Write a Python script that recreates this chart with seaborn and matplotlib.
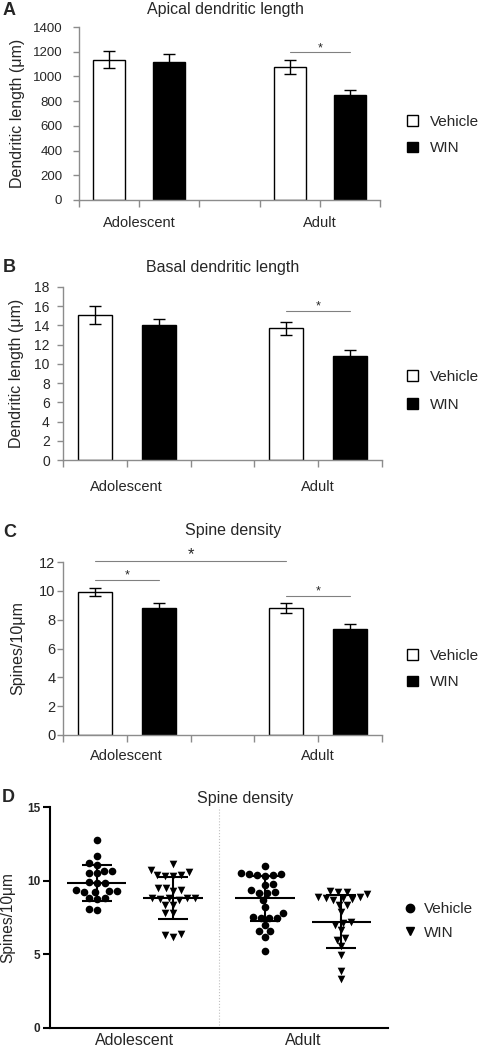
import numpy as np
import pandas as pd
import matplotlib
matplotlib.use("Agg")
import matplotlib.pyplot as plt
import seaborn as sns
from matplotlib.patches import Patch
from matplotlib.lines import Line2D

sns.set_style("ticks")
plt.rcParams["font.family"] = ["Liberation Sans", "DejaVu Sans"]

# groups (panels A-C: one bar per group, Excel-style with an empty slot between ages)
ages = ["Adolescent", "Adolescent", "Adult", "Adult"]
treatments = ["Vehicle", "WIN", "Vehicle", "WIN"]
bar_slots = [0, 1, 3, 4]

apical_mean = [1135, 1120, 1077, 850]
apical_err = [70, 62, 57, 40]
basal_mean = [15.1, 14.0, 13.7, 10.85]
basal_err = [0.95, 0.7, 0.7, 0.6]
spine_mean = [9.92, 8.84, 8.82, 7.32]
spine_err = [0.30, 0.32, 0.33, 0.36]

# panel D: spine density per neuron
adol_vehicle = [12.75, 11.65, 11.05, 11.2, 10.65, 10.55, 10.5, 10.65, 9.85, 9.85, 9.9,
                9.4, 9.3, 9.2, 9.25, 9.3, 8.8, 8.85, 8.75, 8.0, 8.05]
adol_win = [11.15, 10.6, 10.35, 10.35, 10.4, 10.4, 10.7, 9.5, 9.35, 9.5, 9.3, 8.85,
            8.8, 8.7, 8.8, 8.75, 8.8, 8.35, 8.35, 7.8, 7.8, 6.35, 6.15, 6.3]
adult_vehicle = [11.0, 10.45, 10.4, 10.5, 10.4, 10.45, 10.35, 9.75, 9.7, 9.35, 9.15,
                 9.15, 9.2, 8.7, 8.2, 7.8, 7.55, 7.45, 7.45, 7.45, 7.0, 6.6, 6.55, 6.2, 5.25]
adult_win = [9.3, 9.25, 9.2, 9.1, 8.9, 8.85, 8.8, 8.9, 8.75, 8.7, 8.35, 8.35, 7.85,
             7.2, 7.15, 7.0, 6.65, 6.1, 6.0, 5.55, 4.95, 3.9, 3.3]
scatter_mean = [9.84, 8.8, 8.8, 7.2]
scatter_sd = [1.24, 1.42, 1.55, 1.8]
scatter_slots = [0, 1, 2.2, 3.2]

W, H = 482, 1050
bar_colors = {"Vehicle": "white", "WIN": "black"}
axis_gray = "#8c8c8c"


def fx(px):
    return px / W


def fy(py):
    return 1 - py / H


def box(left, top, right, bottom):
    return [fx(left), fy(bottom), (right - left) / W, (bottom - top) / H]


def bar_panel(ax, means, errs, ymax, ystep, ylabel, ytick_size, ytick_pad, xtick_pad, ylab_x):
    df = pd.DataFrame({"slot": bar_slots, "treatment": treatments, "value": means})
    sns.barplot(data=df, x="slot", y="value", hue="treatment", palette=bar_colors,
                native_scale=True, dodge=False, width=0.53, edgecolor="black",
                linewidth=1, errorbar=None, legend=False, ax=ax)
    ax.errorbar(df["slot"], df["value"], yerr=errs, fmt="none", ecolor="black",
                elinewidth=1, capsize=4.5, capthick=1, zorder=3)
    ax.set_xlim(-0.5, 4.5)
    ax.set_ylim(0, ymax)
    ax.set_yticks(np.arange(0, ymax + ystep / 2, ystep))
    ax.set_xticks([-0.5, 0.5, 1.5, 2.5, 3.5, 4.5])
    ax.set_xticklabels(["", "Adolescent", "", "", "Adult", ""], fontsize=10.5)
    ax.tick_params(axis="y", labelsize=ytick_size, length=4, width=1, color=axis_gray,
                   pad=ytick_pad)
    ax.tick_params(axis="x", length=5, width=1, color=axis_gray, pad=xtick_pad)
    sns.despine(ax=ax)
    for s in ["left", "bottom"]:
        ax.spines[s].set_color(axis_gray)
        ax.spines[s].set_linewidth(1)
    ax.set_xlabel("")
    ax.set_ylabel(ylabel, fontsize=11.5)
    ax.yaxis.set_label_coords(ylab_x, 0.5)


def sig(ax, x1, x2, y, size=9):
    ax.plot([x1, x2], [y, y], color="#808080", lw=0.8, clip_on=False)
    ax.annotate("*", ((x1 + x2) / 2, y), xytext=(0, 1), textcoords="offset points",
                ha="center", va="baseline", fontsize=size, annotation_clip=False)


def bar_legend(fig, cy, spacing):
    handles = [Patch(facecolor="white", edgecolor="black", linewidth=1, label="Vehicle"),
               Patch(facecolor="black", edgecolor="black", linewidth=1, label="WIN")]
    fig.legend(handles=handles, loc="center left", bbox_to_anchor=(fx(407), fy(cy)),
               frameon=False, fontsize=11, handlelength=0.7, handleheight=0.7,
               handletextpad=0.8, labelspacing=spacing, borderpad=0, borderaxespad=0)


fig = plt.figure(figsize=(W / 100, H / 100), dpi=100)

# A
axa = fig.add_axes(box(79, 27, 380, 200))
bar_panel(axa, apical_mean, apical_err, 1400, 200, "Dendritic length (\u03bcm)",
          9.5, 8.0, 6.5, -0.18)
sig(axa, 3, 4, 1195)
fig.text(fx(3), fy(15), "A", fontsize=13, fontweight="bold", va="baseline")
fig.text(fx(225), fy(14), "Apical dendritic length", fontsize=11.5, ha="center", va="baseline")
bar_legend(fig, 135, 0.85)

# B
axb = fig.add_axes(box(63, 287, 382, 460))
bar_panel(axb, basal_mean, basal_err, 18, 2, "Dendritic length (\u03bcm)",
          10, 5.5, 9.5, -0.122)
sig(axb, 3, 4, 15.5)
fig.text(fx(3), fy(272), "B", fontsize=13, fontweight="bold", va="baseline")
fig.text(fx(223), fy(272), "Basal dendritic length", fontsize=11.5, ha="center", va="baseline")
bar_legend(fig, 391, 0.9)

# C
axc = fig.add_axes(box(63, 562, 382, 735))
bar_panel(axc, spine_mean, spine_err, 12, 2, "Spines/10\u03bcm", 10.5, 1.5, 5, -0.119)
sig(axc, 0, 3, 12.07, size=12)
sig(axc, 0, 1, 10.73)
sig(axc, 3, 4, 9.67)
fig.text(fx(3), fy(537), "C", fontsize=13, fontweight="bold", va="baseline")
fig.text(fx(233), fy(535), "Spine density", fontsize=11.5, ha="center", va="baseline")
bar_legend(fig, 669, 0.85)

# D
cells = []
for vals, age, trt, slot in zip([adol_vehicle, adol_win, adult_vehicle, adult_win],
                                ages, treatments, scatter_slots):
    for v in vals:
        cells.append({"age": age, "treatment": trt, "slot": slot, "spines": v})
df_d = pd.DataFrame(cells)

axd = fig.add_axes(box(50, 807, 388, 1028))
for trt, mk in [("Vehicle", "o"), ("WIN", "v")]:
    sub = df_d[df_d["treatment"] == trt]
    sns.swarmplot(data=sub, x="slot", y="spines", native_scale=True, marker=mk,
                  color="black", size=5.5, linewidth=0, ax=axd)
for slot, m, sd in zip(scatter_slots, scatter_mean, scatter_sd):
    axd.hlines(m, slot - 0.39, slot + 0.39, color="black", lw=1.5, zorder=4)
    axd.errorbar(slot, m, yerr=sd, fmt="none", ecolor="black", elinewidth=1.5,
                 capsize=11, capthick=1.5, zorder=4)
axd.axvline(1.6, color="#c0c0c0", ls=":", lw=0.8)
axd.set_xlim(-0.61, 3.81)
axd.set_ylim(0, 15)
axd.set_yticks([0, 5, 10, 15])
axd.set_yticklabels(["0", "5", "10", "15"], fontweight="bold")
axd.set_xticks([0.5, 2.7])
axd.set_xticklabels(["Adolescent", "Adult"], fontsize=11.5)
axd.tick_params(axis="y", labelsize=8.5, length=5, width=1.5, color="black", pad=2)
axd.tick_params(axis="x", length=0, pad=3.5)
sns.despine(ax=axd)
for s in ["left", "bottom"]:
    axd.spines[s].set_color("black")
    axd.spines[s].set_linewidth(1.5)
axd.set_xlabel("")
axd.set_ylabel("Spines/10\u03bcm", fontsize=11.2)
axd.yaxis.set_label_coords(-0.104, 0.5)
fig.text(fx(2), fy(802), "D", fontsize=13, fontweight="bold", va="baseline")
fig.text(fx(245), fy(802.5), "Spine density", fontsize=11.5, ha="center", va="baseline")
d_handles = [Line2D([], [], marker="o", color="black", ls="none", markersize=6, label="Vehicle"),
             Line2D([], [], marker="v", color="black", ls="none", markersize=6, label="WIN")]
fig.legend(handles=d_handles, loc="center left", bbox_to_anchor=(fx(404), fy(921)),
           frameon=False, fontsize=11, handlelength=0.8, handletextpad=0.5,
           labelspacing=0.6, borderpad=0, borderaxespad=0)

fig.savefig("out.png", dpi=100)
